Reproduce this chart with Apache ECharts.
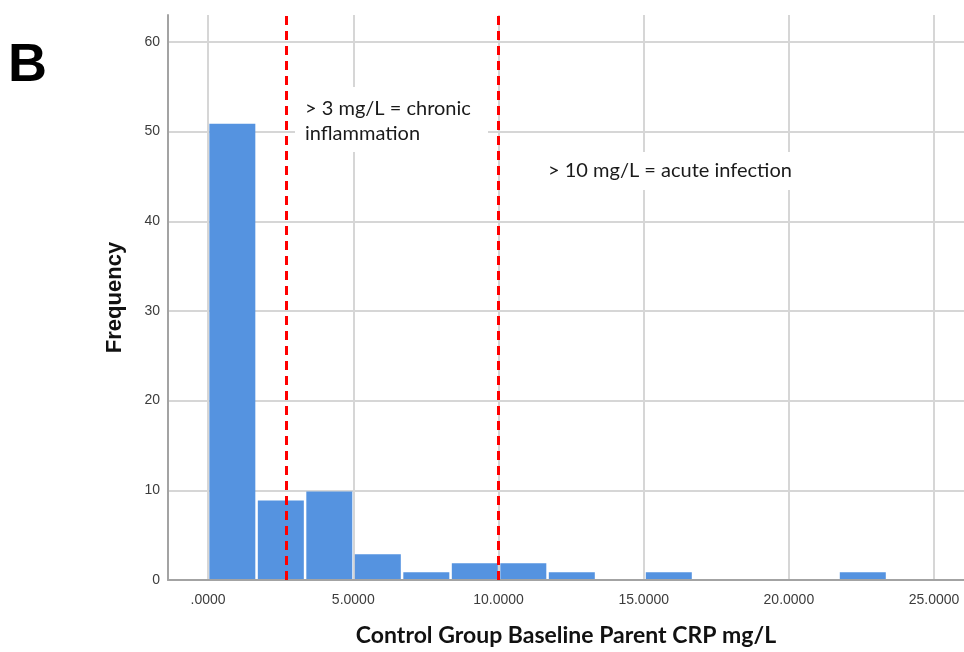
<!DOCTYPE html>
<html>
<head>
<meta charset="utf-8">
<script src="https://cdn.jsdelivr.net/npm/echarts@6/dist/echarts.min.js"></script>
<style>
html,body{margin:0;padding:0;background:#fff;}
#chart{width:964px;height:652px;}
</style>
</head>
<body>
<div id="chart"></div>
<script>
// ---- data ----
const binEdges = [0, 1.67, 3.34, 5.01, 6.68, 8.35, 10.02, 11.69, 13.36, 15.03, 16.70, 18.37, 20.04, 21.71, 23.38];
const counts   = [51, 9, 10, 3, 1, 2, 2, 1, 0, 1, 0, 0, 0, 1];
const xTicks = [0, 5, 10, 15, 20, 25];
const yTicks = [0, 10, 20, 30, 40, 50, 60];
const refLines = [2.7, 10.0];
const annotation1 = ['> 3 mg/L = chronic', 'inflammation'];
const annotation2 = '> 10 mg/L = acute infection';
const xTitle = 'Control Group Baseline Parent CRP mg/L';
const yTitle = 'Frequency';
const panelLabel = 'B';

const X_MIN = -1.38, X_MAX = 26.03, Y_MAX = 63;

const histData = [];
for (let i = 0; i < counts.length; i++) {
  histData.push([binEdges[i], binEdges[i + 1], counts[i]]);
}

const chart = echarts.init(document.getElementById('chart'), null, {renderer: 'canvas'});

const GAP = 1.25;
const series = [{
  type: 'custom',
  data: histData,
  encode: {x: [0, 1], y: 2},
  z: 3,
  renderItem: function (params, api) {
    const x0 = api.value(0), x1 = api.value(1), c = api.value(2);
    if (!c) return null;
    const p0 = api.coord([x0, c]);
    const p1 = api.coord([x1, 0]);
    return {
      type: 'rect',
      shape: {x: p0[0] + GAP, y: p0[1] + GAP, width: p1[0] - p0[0] - 2 * GAP, height: p1[1] - p0[1] - GAP - 1},
      style: {fill: '#5593e0'}
    };
  }
}];
refLines.forEach(function (v) {
  series.push({
    type: 'line',
    data: [[v, 0], [v, Y_MAX]],
    symbol: 'none',
    z: 5,
    silent: true,
    lineStyle: {color: '#ff0000', width: 3, type: [9, 6]}
  });
});

const option = {
  backgroundColor: '#ffffff',
  animation: false,
  grid: {left: 168, right: 0, top: 15, bottom: 69, containLabel: false},
  xAxis: {
    type: 'value',
    min: X_MIN, max: X_MAX,
    axisLine: {show: true, onZero: false, lineStyle: {color: '#a3a3a3', width: 2}},
    axisTick: {show: false, customValues: xTicks},
    splitLine: {show: true, lineStyle: {color: '#d6d6d6', width: 2}},
    axisLabel: {
      customValues: xTicks,
      margin: 13,
      color: '#3c3c3c',
      fontFamily: 'Liberation Sans, Arial, sans-serif',
      fontSize: 14,
      formatter: function (v) { return v === 0 ? '.0000' : v.toFixed(4); }
    },
    name: xTitle,
    nameLocation: 'middle',
    nameGap: 44,
    nameTextStyle: {fontFamily: 'Lato, sans-serif', fontWeight: 'bold', fontSize: 23, color: '#111'}
  },
  yAxis: {
    type: 'value',
    min: 0, max: Y_MAX,
    axisLine: {show: true, onZero: false, lineStyle: {color: '#a3a3a3', width: 2}},
    axisTick: {show: false, customValues: yTicks},
    splitLine: {show: true, lineStyle: {color: '#d6d6d6', width: 2}},
    axisLabel: {
      customValues: yTicks,
      margin: 8,
      padding: [5, 0, 0, 0],
      color: '#3c3c3c',
      fontFamily: 'Liberation Sans, Arial, sans-serif',
      fontSize: 14
    },
    name: yTitle,
    nameLocation: 'middle',
    nameRotate: 90,
    nameGap: 42,
    nameTextStyle: {fontFamily: 'Liberation Sans, Arial, sans-serif', fontWeight: 'bold', fontSize: 22, color: '#111'}
  },
  series: series,
  graphic: [
    {type: 'text', left: 8, top: 39, z: 10,
     style: {text: panelLabel, font: 'bold 54px "Liberation Sans", Arial, sans-serif', fill: '#000'}},
    {type: 'rect', shape: {x: 295, y: 87, width: 193, height: 65}, style: {fill: '#ffffff'}, z: 8},
    {type: 'text', x: 305, y: 96, z: 9,
     style: {text: annotation1.join('\n'), font: '20px Lato, sans-serif', lineHeight: 25, fill: '#1a1a1a'}},
    {type: 'rect', shape: {x: 538, y: 152, width: 264, height: 38}, style: {fill: '#ffffff'}, z: 8},
    {type: 'text', x: 548, y: 158, z: 9,
     style: {text: annotation2, font: '20px Lato, sans-serif', lineHeight: 25, fill: '#1a1a1a'}}
  ]
};
chart.setOption(option);
</script>
</body>
</html>
